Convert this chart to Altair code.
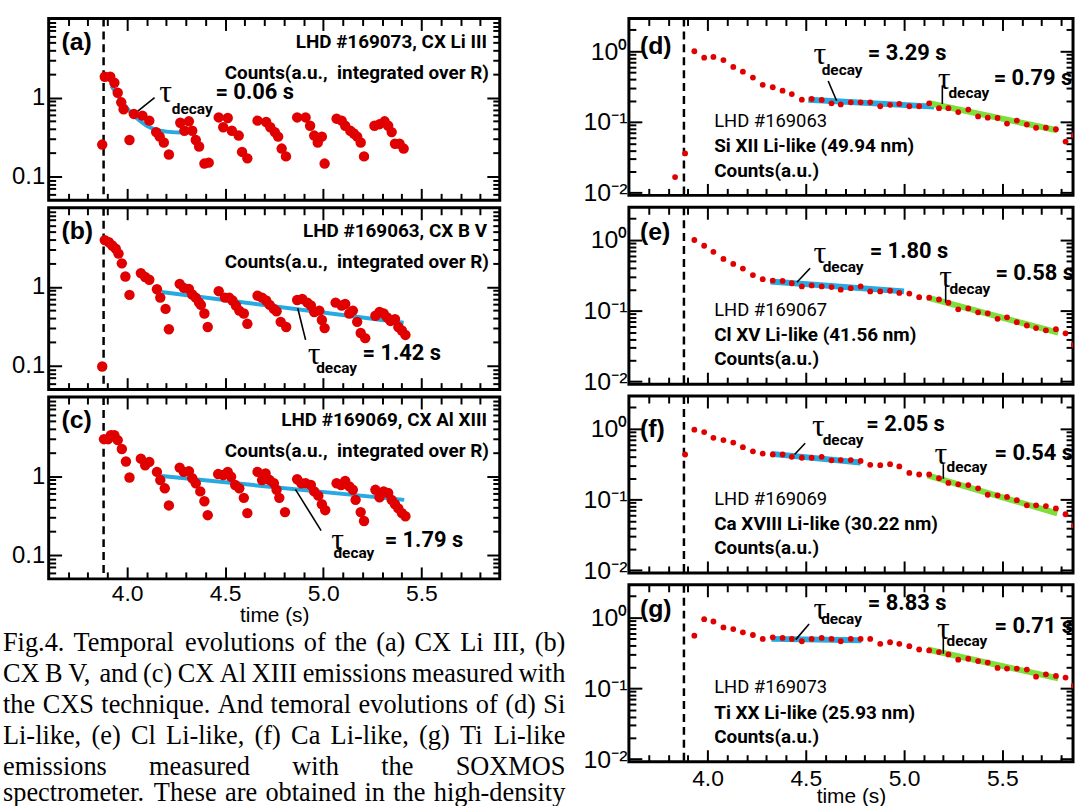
import altair as alt
import pandas as pd

# ------------------------------------------------------------------
# values
# ------------------------------------------------------------------
NBI_OFF = 3.88  # dashed vertical line (s)

# (a) CX Li III, LHD #169073
A_T = [3.873, 3.886, 3.914, 3.935, 3.952, 3.970, 3.982, 4.012, 4.034, 4.078, 4.113, 4.148, 4.166, 4.187, 4.213,
       4.271, 4.292, 4.315, 4.332, 4.350, 4.367, 4.394, 4.416,
       4.467, 4.490, 4.513, 4.534, 4.569, 4.586, 4.613,
       4.665, 4.709, 4.730, 4.753, 4.770, 4.788, 4.810,
       4.867, 4.910, 4.933, 4.954, 4.972, 4.993, 5.007,
       5.068, 5.094, 5.112, 5.138, 5.156, 5.173, 5.191, 5.208,
       5.261, 5.287, 5.313, 5.331, 5.349, 5.366, 5.389, 5.410]
A_V = [0.254, 1.83, 1.83, 1.54, 1.15, 0.87, 0.71, 0.29, 0.62, 0.59, 0.51, 0.365, 0.32, 0.27, 0.19,
       0.48, 0.38, 0.50, 0.38, 0.29, 0.24, 0.146, 0.15,
       0.56, 0.42, 0.55, 0.38, 0.33, 0.205, 0.17,
       0.51, 0.49, 0.42, 0.365, 0.32, 0.226, 0.18,
       0.56, 0.56, 0.44, 0.33, 0.27, 0.32, 0.146,
       0.54, 0.51, 0.44, 0.38, 0.35, 0.32, 0.27, 0.18,
       0.44, 0.46, 0.50, 0.44, 0.365, 0.26, 0.26, 0.226]
A_FIT_T = [3.92, 3.95, 3.98, 4.02, 4.06, 4.10, 4.15, 4.20, 4.27]
A_FIT_V = [1.40, 1.08, 0.85, 0.64, 0.52, 0.44, 0.39, 0.37, 0.36]

# (b) CX B V, LHD #169063
B_T = [3.873, 3.886, 3.907, 3.924, 3.942, 3.956, 3.973, 3.991, 4.012,
       4.070, 4.092, 4.113, 4.152, 4.169, 4.196, 4.213,
       4.268, 4.289, 4.315, 4.332, 4.350, 4.367, 4.376, 4.394, 4.411,
       4.467, 4.499, 4.520, 4.537, 4.555, 4.572, 4.595, 4.613,
       4.665, 4.688, 4.709, 4.727, 4.748, 4.762, 4.783, 4.811,
       4.867, 4.893, 4.919, 4.937, 4.954, 4.980, 4.993, 5.007,
       5.063, 5.094, 5.112, 5.133, 5.151, 5.173, 5.191, 5.214,
       5.266, 5.287, 5.308, 5.326, 5.343, 5.366, 5.383, 5.401, 5.419]
B_V = [0.098, 3.9, 3.66, 3.33, 3.03, 2.63, 1.98, 1.35, 0.79,
       1.49, 1.33, 1.23, 0.93, 0.73, 0.525, 0.29,
       1.09, 0.97, 0.94, 0.80, 0.73, 0.63, 0.59, 0.46, 0.31,
       0.88, 0.73, 0.73, 0.67, 0.58, 0.50, 0.46, 0.34,
       0.77, 0.73, 0.67, 0.59, 0.525, 0.49, 0.36, 0.31,
       0.68, 0.70, 0.63, 0.58, 0.48, 0.50, 0.38, 0.30,
       0.63, 0.58, 0.605, 0.46, 0.50, 0.36, 0.26, 0.224,
       0.43, 0.48, 0.46, 0.41, 0.37, 0.39, 0.31, 0.28, 0.246]
B_FIT_T = [4.175, 5.41]
B_FIT_V = [0.86, 0.35]

# (c) CX Al XIII, LHD #169069
C_T = [3.882, 3.903, 3.917, 3.935, 3.952, 3.973, 3.994, 4.012,
       4.070, 4.092, 4.113, 4.152, 4.169, 4.192, 4.213,
       4.268, 4.289, 4.315, 4.332, 4.350, 4.373, 4.394, 4.411,
       4.464, 4.490, 4.513, 4.530, 4.551, 4.572, 4.595, 4.613,
       4.665, 4.688, 4.706, 4.727, 4.748, 4.762, 4.776, 4.805,
       4.867, 4.888, 4.910, 4.937, 4.954, 4.975, 4.993, 5.010,
       5.068, 5.091, 5.112, 5.133, 5.151, 5.165, 5.191, 5.208,
       5.266, 5.287, 5.308, 5.331, 5.349, 5.366, 5.383, 5.401, 5.419]
C_V = [2.93, 2.93, 3.29, 3.29, 2.85, 2.2, 1.53, 0.96,
       1.66, 1.37, 1.51, 1.13, 0.89, 0.70, 0.425,
       1.28, 1.13, 1.15, 0.94, 0.81, 0.64, 0.48, 0.32,
       1.06, 1.03, 1.13, 0.98, 0.77, 0.70, 0.53, 0.34,
       1.13, 0.89, 1.08, 0.89, 0.81, 0.67, 0.53, 0.35,
       0.91, 0.81, 0.81, 0.77, 0.64, 0.565, 0.44, 0.37,
       0.81, 0.77, 0.87, 0.74, 0.67, 0.50, 0.35, 0.27,
       0.67, 0.54, 0.64, 0.61, 0.50, 0.44, 0.39, 0.34, 0.31]
C_FIT_T = [4.175, 5.413]
C_FIT_V = [1.0, 0.50]

# SOXMOS sampling times
SOX_T = [3.933, 3.983, 4.030, 4.081, 4.131, 4.180, 4.231, 4.281, 4.332, 4.382,
         4.429, 4.480, 4.530, 4.581, 4.631, 4.678, 4.729, 4.779, 4.828, 4.879,
         4.929, 4.976, 5.027, 5.077, 5.128, 5.178, 5.226, 5.276, 5.327, 5.377,
         5.426, 5.476, 5.524, 5.574, 5.625, 5.672, 5.722, 5.773, 5.822, 5.864]

# (d) Si XII Li-like, LHD #169063
D_T = [3.835, 3.886] + SOX_T
D_V = [0.0167, 0.036, 1.0, 0.81, 0.83, 0.75, 0.60, 0.515, 0.425, 0.335, 0.31, 0.277,
       0.248, 0.207, 0.212, 0.205, 0.184, 0.177, 0.19, 0.19, 0.19, 0.167,
       0.175, 0.18, 0.167, 0.167, 0.184, 0.157, 0.157, 0.138, 0.150, 0.12,
       0.115, 0.114, 0.095, 0.105, 0.092, 0.083, 0.083, 0.079, 0.053, 0.065]
D_BLUE = ([4.513, 5.153], [0.207, 0.165])
D_GREEN = ([5.128, 5.779], [0.184, 0.0765])

# (e) Cl XV Li-like, LHD #169067
E_T = SOX_T
E_V = [1.0, 0.83, 0.68, 0.54, 0.46, 0.395, 0.32, 0.28, 0.267, 0.264,
       0.245, 0.221, 0.228, 0.221, 0.216, 0.199, 0.209, 0.221, 0.188, 0.188,
       0.192, 0.179, 0.175, 0.156, 0.153, 0.145, 0.130, 0.105, 0.108, 0.095,
       0.092, 0.077, 0.081, 0.069, 0.062, 0.057, 0.053, 0.055, 0.048, 0.033]
E_BLUE = ([4.32, 5.0], [0.259, 0.188])
E_GREEN = ([5.12, 5.785], [0.153, 0.049])

# (f) Ca XVIII Li-like, LHD #169069
F_T = [3.886] + SOX_T
F_V = [0.433, 0.97, 0.90, 0.746, 0.693, 0.638, 0.55, 0.48, 0.447, 0.433, 0.433,
       0.402, 0.39, 0.39, 0.402, 0.359, 0.362, 0.362, 0.351, 0.31, 0.306,
       0.316, 0.294, 0.238, 0.226, 0.226, 0.2, 0.172, 0.164, 0.16, 0.144,
       0.117, 0.115, 0.109, 0.098, 0.083, 0.083, 0.081, 0.075, 0.062, 0.043]
F_BLUE = ([4.325, 4.779], [0.442, 0.333])
F_GREEN = ([5.12, 5.78], [0.219, 0.064])

# (g) Ti XX Li-like, LHD #169073
G_T = SOX_T
G_V = [0.555, 0.95, 0.88, 0.725, 0.687, 0.618, 0.567, 0.499, 0.526, 0.515,
       0.499, 0.463, 0.499, 0.515, 0.499, 0.463, 0.499, 0.499, 0.499, 0.425,
       0.448, 0.425, 0.394, 0.354, 0.343, 0.325, 0.301, 0.254, 0.262, 0.243,
       0.231, 0.194, 0.19, 0.19, 0.184, 0.146, 0.158, 0.150, 0.142, 0.109]
G_BLUE = ([4.325, 4.783], [0.50, 0.478])
G_GREEN = ([5.12, 5.785], [0.354, 0.138])

X_TICKS = [3.7, 3.8, 3.9, 4.0, 4.1, 4.2, 4.3, 4.4, 4.5, 4.6, 4.7, 4.8, 4.9,
           5.0, 5.1, 5.2, 5.3, 5.4, 5.5, 5.6, 5.7, 5.8]
X_LABELS = [4.0, 4.5, 5.0, 5.5]
Y_TICKS_L = [0.06, 0.07, 0.08, 0.09, 0.1, 0.2, 0.3, 0.4, 0.5, 0.6, 0.7, 0.8, 0.9,
             1, 2, 3, 4, 5, 6, 7, 8, 9]
Y_LABELS_L = [0.1, 1]
Y_TICKS_R = [0.01, 0.02, 0.03, 0.04, 0.05, 0.06, 0.07, 0.08, 0.09, 0.1, 0.2, 0.3,
             0.4, 0.5, 0.6, 0.7, 0.8, 0.9, 1, 2]
Y_LABELS_R = [0.01, 0.1, 1]

CAPTION = [
    "Fig.4. Temporal evolutions of the (a) CX Li III, (b)",
    "CX B V, and (c) CX Al XIII emissions measured with",
    "the CXS technique. And temoral evolutions of (d) Si",
    "Li-like, (e) Cl Li-like, (f) Ca Li-like, (g) Ti Li-like",
    "emissions measured with the SOXMOS",
    "spectrometer. These are obtained in the high-density",
]

# ------------------------------------------------------------------
# styling / layout
# ------------------------------------------------------------------
RED = "#E00000"
BLUE = "#27A9E1"
GREEN = "#7DE03A"
NARROW = "Roboto, Liberation Sans, sans-serif"
SANS = "Liberation Sans, Arial, sans-serif"
SERIF = "Liberation Serif, Times New Roman, serif"
XMAJ = "abs(datum.value*2 - round(datum.value*2)) < 0.01"
YMAJ = "abs(log(datum.value)/LN10 - round(log(datum.value)/LN10)) < 0.01"

# caption block (page pixels): justified between CAP_L and CAP_R
CAP_FS = 26.5
CAP_L, CAP_R = 1, 567
CAP_BASE = [649, 680, 711, 742, 773, 800]
C_ORIGIN = (47, 393)  # plot origin of panel (c)

# Times advance widths (1/1000 em) used to justify the caption words
TIMES = {" ": 250, "(": 333, ")": 333, ",": 250, "-": 333, ".": 250,
         "A": 722, "B": 667, "C": 667, "D": 722, "E": 611, "F": 556, "G": 722, "H": 722,
         "I": 333, "L": 611, "M": 889, "O": 722, "S": 556, "T": 611, "V": 722, "X": 722,
         "a": 444, "b": 500, "c": 444, "d": 500, "e": 444, "f": 333, "g": 500, "h": 500,
         "i": 278, "k": 500, "l": 278, "m": 778, "n": 500, "o": 500, "p": 500, "q": 500,
         "r": 333, "s": 389, "t": 278, "u": 500, "v": 500, "w": 722, "y": 500}


def word_width(w):
    return sum(TIMES.get(ch, 500) for ch in w) * CAP_FS / 1000.0


def caption_rows():
    left_rows, right_rows = [], []
    for i, line in enumerate(CAPTION):
        words = line.split(" ")
        ws = [word_width(w) for w in words]
        gap = (CAP_R - CAP_L - sum(ws)) / (len(words) - 1)
        x = CAP_L
        y = CAP_BASE[i] - C_ORIGIN[1]
        for k, (w, wd) in enumerate(zip(words, ws)):
            if k == len(words) - 1:
                right_rows.append((w, CAP_R - C_ORIGIN[0], y))
            else:
                left_rows.append((w, x - C_ORIGIN[0], y))
            x += wd + gap
    return left_rows, right_rows


def tick_axis(orient, offset, values, test, big, small):
    return alt.Axis(orient=orient, offset=offset, values=values, labels=False,
                    domain=False, grid=False, ticks=True, tickColor="black",
                    tickWidth=2,
                    tickSize={"condition": {"test": test, "value": big}, "value": small},
                    title=None, minExtent=0)


def text_layer(rows, X, Y, **mk):
    df = pd.DataFrame(rows, columns=["s", "t", "v"])
    return alt.Chart(df).mark_text(color="black", **mk).encode(
        x=X("t"), y=Y("v"), text="s:N")


def panel(p):
    left = p["side"] == "L"
    W, H = (454, 183) if left else (447, 178)
    xs = alt.Scale(domain=[3.6, 5.9] if left else [3.6, 5.86], nice=False, zero=False)
    ys = alt.Scale(type="log", domain=[0.05, 10] if left else [0.0092, 2.9], nice=False)
    ytv = Y_TICKS_L if left else Y_TICKS_R

    def X(f, axis=None):
        return alt.X(f, type="quantitative", scale=xs, axis=axis)

    def Y(f, axis=None):
        return alt.Y(f, type="quantitative", scale=ys, axis=axis)

    ax_xb = tick_axis("top", -H, X_TICKS, XMAJ, 12, 7)
    ax_xt = tick_axis("bottom", -H, X_TICKS, XMAJ, 12, 7)
    ax_yl = tick_axis("right", -W, ytv, YMAJ, 13, 7)
    ax_yr = tick_axis("left", -W, ytv, YMAJ, 13, 7)

    if left:
        ylab = alt.Axis(orient="left", values=Y_LABELS_L, format="~g", ticks=False,
                        domain=False, grid=False, labelFontSize=24, labelPadding=4,
                        minExtent=47, maxExtent=47, title=None)
    else:
        ylab = alt.Axis(orient="left", values=Y_LABELS_R, ticks=False, domain=False,
                        grid=False, labelFontSize=25, labelPadding=2,
                        labelExpr="datum.value > 0.5 ? '10\u2070' : datum.value > 0.05 ? '10\u207b\u00b9' : '10\u207b\u00b2'",
                        minExtent=55, maxExtent=55, title=None)
    xlab = None
    if p["bottom"]:
        xlab = alt.Axis(orient="bottom", values=X_LABELS, format=".1f", ticks=False,
                        domain=False, grid=False, labelFontSize=23,
                        labelPadding=4 if left else 6, labelFlush=False,
                        title="time (s)", titleFont=SANS, titleFontSize=21,
                        titleFontWeight="normal", titleBaseline="alphabetic",
                        titleY=43 if left else 41)

    lw = 4 if left else 6
    layers = []
    f1 = pd.DataFrame({"t": p["fit1"][0], "v": p["fit1"][1]})
    mk = dict(color=BLUE, strokeWidth=lw, clip=True)
    if p.get("curve"):
        mk["interpolate"] = "monotone"
    layers.append(alt.Chart(f1).mark_line(**mk).encode(x=X("t", ax_xb), y=Y("v", ax_yl)))

    ld = pd.DataFrame(p["leaders"], columns=["t1", "v1", "t2", "v2"])
    if p.get("fit2"):
        f2 = pd.DataFrame({"t": p["fit2"][0], "v": p["fit2"][1]})
        layers.append(alt.Chart(f2).mark_line(color=GREEN, strokeWidth=lw, clip=True).encode(
            x=X("t", ax_xt), y=Y("v", ax_yr)))
        layers.append(alt.Chart(ld).mark_rule(color="black", strokeWidth=1.6).encode(
            x=X("t1"), x2="t2:Q", y=Y("v1"), y2="v2:Q"))
    else:
        layers.append(alt.Chart(ld).mark_rule(color="black", strokeWidth=1.6).encode(
            x=X("t1", ax_xt), x2="t2:Q", y=Y("v1", ax_yr), y2="v2:Q"))

    layers.append(alt.Chart(pd.DataFrame({"t": [NBI_OFF]})).mark_rule(
        color="black", strokeWidth=2.5, strokeDash=[8, 5]).encode(x=X("t")))

    pts = pd.DataFrame({"t": p["t"], "v": p["v"]})
    layers.append(alt.Chart(pts).mark_circle(color=RED, opacity=1, size=110 if left else 34,
                                             clip=True).encode(x=X("t", xlab), y=Y("v", ylab)))

    layers.append(text_layer([("\u03c4", a, b) for a, b in p["taus"]], X, Y,
                             font=SERIF, fontSize=32, align="center", baseline="middle"))
    layers.append(text_layer([("decay", a, b) for a, b in p["decays"]], X, Y,
                             font=NARROW, fontSize=15.5, fontWeight="bold",
                             align="center", baseline="middle"))
    layers.append(text_layer(p["vals"], X, Y, font=NARROW, fontSize=22, fontWeight="bold",
                             align="left", baseline="middle"))
    layers.append(text_layer([p["label"]], X, Y, font=SANS, fontSize=25, fontWeight="bold",
                             align="left", baseline="middle"))
    if left:
        layers.append(text_layer(p["info"], X, Y, font=NARROW, fontSize=19, fontWeight="bold",
                                 align="right", baseline="middle"))
    else:
        layers.append(text_layer(p["info"][:1], X, Y, font=NARROW, fontSize=18.5,
                                 align="left", baseline="middle"))
        layers.append(text_layer(p["info"][1:], X, Y, font=NARROW, fontSize=19,
                                 fontWeight="bold", align="left", baseline="middle"))

    if p.get("caption"):
        lrows, rrows = caption_rows()
        for rows, al in ((lrows, "left"), (rrows, "right")):
            cdf = pd.DataFrame(rows, columns=["s", "px", "py"])
            layers.append(alt.Chart(cdf).mark_text(
                align=al, baseline="alphabetic", font=SERIF, fontSize=CAP_FS, color="black"
            ).encode(x=alt.X("px:Q", scale=None, axis=None),
                     y=alt.Y("py:Q", scale=None, axis=None), text="s:N"))

    return alt.layer(*layers).properties(width=W, height=H).resolve_axis(
        x="independent", y="independent")


CNT = "Counts(a.u.,\u00a0 integrated over R)"
PANELS = [
    dict(side="L", bottom=False, t=A_T, v=A_V, fit1=(A_FIT_T, A_FIT_V), curve=True,
         leaders=[(4.026, 0.59, 4.14, 1.0)], taus=[(4.197, 1.16)], decays=[(4.332, 0.715)],
         vals=[("= 0.06 s", 4.45, 1.18)], label=("(a)", 3.665, 5.1),
         info=[("LHD #169073, CX Li III", 5.835, 5.1), (CNT, 5.845, 2.05)]),
    dict(side="L", bottom=False, t=B_T, v=B_V, fit1=(B_FIT_T, B_FIT_V),
         leaders=[(4.87, 0.535, 4.91, 0.213)], taus=[(4.954, 0.139)], decays=[(5.068, 0.095)],
         vals=[("= 1.42 s", 5.2, 0.146)], label=("(b)", 3.665, 5.1),
         info=[("LHD #169063, CX B V", 5.835, 5.1), (CNT, 5.845, 2.05)]),
    dict(side="L", bottom=True, caption=True, t=C_T, v=C_V, fit1=(C_FIT_T, C_FIT_V),
         leaders=[(4.858, 0.68, 4.989, 0.204)], taus=[(5.073, 0.153)], decays=[(5.156, 0.105)],
         vals=[("= 1.79 s", 5.313, 0.153)], label=("(c)", 3.665, 5.1),
         info=[("LHD #169069, CX Al XIII", 5.835, 5.1), (CNT, 5.845, 2.05)]),
    dict(side="R", bottom=False, t=D_T, v=D_V, fit1=D_BLUE, fit2=D_GREEN,
         leaders=[(4.614, 0.38, 4.657, 0.20), (5.195, 0.33, 5.195, 0.18)],
         taus=[(4.572, 0.90), (5.204, 0.40)], decays=[(4.685, 0.54), (5.33, 0.26)],
         vals=[("= 3.29 s", 4.816, 0.95), ("= 0.79 s", 5.456, 0.42)], label=("(d)", 3.656, 1.2),
         info=[("LHD #169063", 4.034, 0.103), ("Si XII Li-like (49.94 nm)", 4.034, 0.0453),
               ("Counts(a.u.)", 4.034, 0.0205)]),
    dict(side="R", bottom=False, t=E_T, v=E_V, fit1=E_BLUE, fit2=E_GREEN,
         leaders=[(4.455, 0.253, 4.522, 0.40), (5.212, 0.233, 5.212, 0.13)],
         taus=[(4.572, 0.656), (5.212, 0.30)], decays=[(4.69, 0.417), (5.335, 0.2)],
         vals=[("= 1.80 s", 4.825, 0.71), ("= 0.58 s", 5.465, 0.337)], label=("(e)", 3.656, 1.3),
         info=[("LHD #169067", 4.034, 0.103), ("Cl XV Li-like (41.56 nm)", 4.034, 0.0453),
               ("Counts(a.u.)", 4.034, 0.0205)]),
    dict(side="R", bottom=False, t=F_T, v=F_V, fit1=F_BLUE, fit2=F_GREEN,
         leaders=[(4.443, 0.433, 4.497, 0.624), (5.2, 0.316, 5.2, 0.197)],
         taus=[(4.564, 1.11), (5.187, 0.44)], decays=[(4.69, 0.69), (5.32, 0.285)],
         vals=[("= 2.05 s", 4.808, 1.17), ("= 0.54 s", 5.46, 0.456)], label=("(f)", 3.656, 0.98),
         info=[("LHD #169069", 4.034, 0.103), ("Ca XVIII Li-like (30.22 nm)", 4.034, 0.0453),
               ("Counts(a.u.)", 4.034, 0.0205)]),
    dict(side="R", bottom=True, t=G_T, v=G_V, fit1=G_BLUE, fit2=G_GREEN,
         leaders=[(4.449, 0.488, 4.517, 0.81), (5.2, 0.526, 5.2, 0.308)],
         taus=[(4.572, 1.31), (5.2, 0.687)], decays=[(4.682, 0.95), (5.32, 0.472)],
         vals=[("= 8.83 s", 4.816, 1.62), ("= 0.71 s", 5.46, 0.765)], label=("(g)", 3.656, 1.31),
         info=[("LHD #169073", 4.034, 0.103), ("Ti XX Li-like (25.93 nm)", 4.034, 0.0453),
               ("Counts(a.u.)", 4.034, 0.0205)]),
]

charts = [panel(p) for p in PANELS]

# frame strokes and the hanging 10^-2 labels already add some room between stacked
# panels, so the nominal spacings are small (right one even negative)
left_col = alt.vconcat(charts[0], charts[1], charts[2], spacing=1.5)
right_col = alt.vconcat(charts[3], charts[4], charts[5], charts[6], spacing=-4)

chart = alt.hconcat(left_col, right_col, spacing=5).properties(
    padding={"left": 0, "top": 13, "right": 0, "bottom": 0}
).configure_view(stroke="black", strokeWidth=3).configure_axis(
    labelColor="black", titleColor="black", labelFont=SANS
)

chart.save("out.html", embed_options={"renderer": "svg", "actions": False})
